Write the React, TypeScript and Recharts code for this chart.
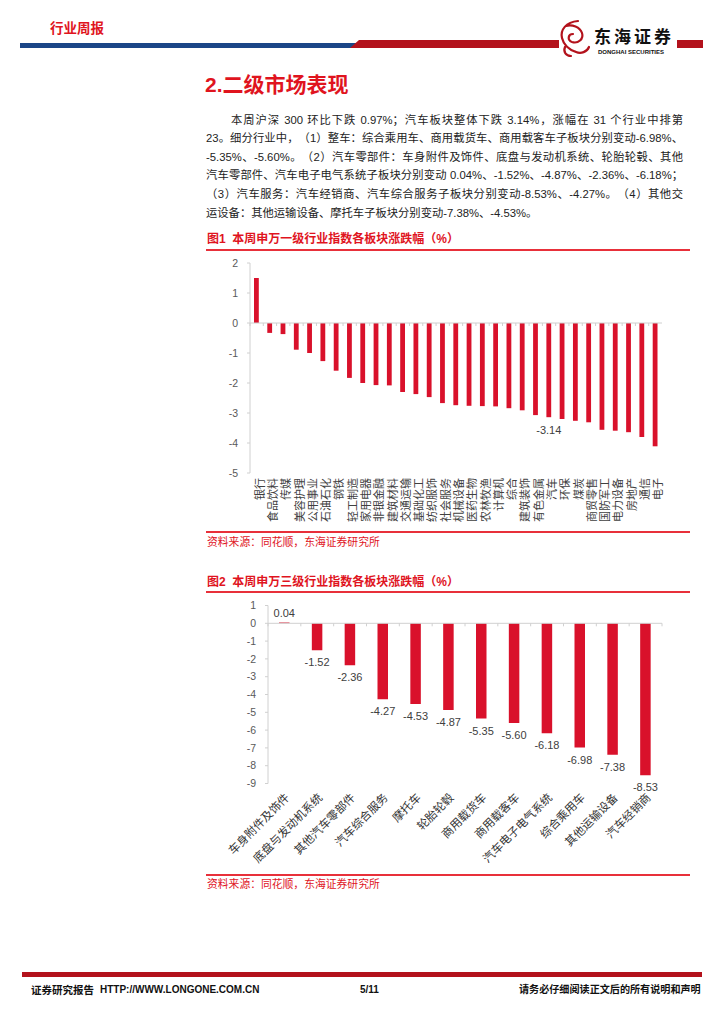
import React from "react";
import { BarChart, Bar, XAxis, YAxis, ReferenceLine, LabelList } from "recharts";

// ---------- data ----------
const industries = ["银行", "食品饮料", "传媒", "美容护理", "公用事业", "石油石化", "钢铁", "轻工制造", "家用电器", "非银金融", "建筑材料", "交通运输", "基础化工", "纺织服饰", "社会服务", "机械设备", "医药生物", "农林牧渔", "计算机", "综合", "建筑装饰", "有色金属", "汽车", "环保", "煤炭", "商贸零售", "国防军工", "电力设备", "房地产", "通信", "电子"];
const industryChange = [1.5, -0.33, -0.37, -0.89, -1.0, -1.27, -1.59, -1.83, -2.0, -2.07, -2.08, -2.3, -2.37, -2.47, -2.67, -2.74, -2.76, -2.77, -2.78, -2.84, -2.91, -3.07, -3.14, -3.2, -3.26, -3.31, -3.56, -3.59, -3.64, -3.8, -4.11];
const industryTicks = [2, 1, 0, -1, -2, -3, -4, -5];
const highlightedIndustry = "汽车";

const subSectors = ["车身附件及饰件", "底盘与发动机系统", "其他汽车零部件", "汽车综合服务", "摩托车", "轮胎轮毂", "商用载货车", "商用载客车", "汽车电子电气系统", "综合乘用车", "其他运输设备", "汽车经销商"];
const subSectorChange = [0.04, -1.52, -2.36, -4.27, -4.53, -4.87, -5.35, -5.6, -6.18, -6.98, -7.38, -8.53];
const subSectorTicks = [1, 0, -1, -2, -3, -4, -5, -6, -7, -8, -9];

const paragraphLines = [
  "本周沪深 300 环比下跌 0.97%；汽车板块整体下跌 3.14%，涨幅在 31 个行业中排第",
  "23。细分行业中，（1）整车：综合乘用车、商用载货车、商用载客车子板块分别变动-6.98%、",
  "-5.35%、-5.60%。（2）汽车零部件：车身附件及饰件、底盘与发动机系统、轮胎轮毂、其他",
  "汽车零部件、汽车电子电气系统子板块分别变动 0.04%、-1.52%、-4.87%、-2.36%、-6.18%；",
  "（3）汽车服务：汽车经销商、汽车综合服务子板块分别变动-8.53%、-4.27%。（4）其他交",
  "运设备：其他运输设备、摩托车子板块分别变动-7.38%、-4.53%。",
];

// ---------- styles ----------
const FONT = '"Liberation Sans", Arial, "Noto Sans CJK SC", sans-serif';
const BAR_RED = "#D9112B";
const TEXT_RED = "#E0141E";
const DARK_RED = "#B3121C";
const NAVY = "#1B4687";
const AXIS_GREY = "#d0d0d0";

const data1 = industries.map((name, i) => ({ name, value: industryChange[i] }));
const data2 = subSectors.map((name, i) => ({ name, value: subSectorChange[i] }));

const VerticalTick = (props: any) => {
  const { x, y, payload } = props;
  const tx = x + 3;
  const ty = y + 5;
  return (
    <text x={tx} y={ty} transform={`rotate(-90 ${tx} ${ty})`} textAnchor="end" dominantBaseline="central" fontSize={11} fill="#404040" fontFamily={FONT}>
      {payload.value}
    </text>
  );
};

const SlantTick = (props: any) => {
  const { x, y, payload } = props;
  const tx = x + 3;
  const ty = y + 12;
  return (
    <text x={tx} y={ty} transform={`rotate(-45 ${tx} ${ty})`} textAnchor="end" dominantBaseline="central" fontSize={11.5} fill="#333" fontFamily={FONT}>
      {payload.value}
    </text>
  );
};

const Label1 = (props: any) => {
  const { x, y, width, height, value, index } = props;
  if (industries[index] !== highlightedIndustry) return null;
  const bottom = Math.max(y, y + height);
  return (
    <text x={x + width / 2} y={bottom + 13} textAnchor="middle" dominantBaseline="central" fontSize={11} fill="#404040" fontFamily={FONT}>
      {Number(value).toFixed(2)}
    </text>
  );
};

const Label2 = (props: any) => {
  const { x, y, width, height, value } = props;
  const top = Math.min(y, y + height);
  const bottom = Math.max(y, y + height);
  const ly = value >= 0 ? top - 10 : bottom + 12;
  return (
    <text x={x + width / 2} y={ly} textAnchor="middle" dominantBaseline="central" fontSize={11} fill="#404040" fontFamily={FONT}>
      {Number(value).toFixed(2)}
    </text>
  );
};

const Chart1 = () => {
  const last = industries[industries.length - 1];
  return (
    <BarChart width={490} height={290} data={data1} margin={{ top: 8, right: 18, left: 0, bottom: 0 }} barCategoryGap={0} style={{ fontFamily: FONT }}>
      <XAxis dataKey="name" height={72} axisLine={false} tickLine={false} tickSize={0} tickMargin={0} interval={0} tick={<VerticalTick />} />
      <YAxis width={60} domain={[-5, 2]} ticks={industryTicks} interval={0} allowDataOverflow tickSize={3} tickMargin={9} axisLine={{ stroke: AXIS_GREY }} tickLine={{ stroke: AXIS_GREY }} tick={{ fontSize: 10.5, fill: "#595959" }} />
      <ReferenceLine y={0} stroke={AXIS_GREY} />
      {industries.map((c) => (
        <ReferenceLine key={c} segment={[{ x: c, y: 0 }, { x: c, y: -0.1 }]} position="start" stroke={AXIS_GREY} />
      ))}
      <ReferenceLine segment={[{ x: last, y: 0 }, { x: last, y: -0.1 }]} position="end" stroke={AXIS_GREY} />
      <Bar dataKey="value" fill={BAR_RED} barSize={4.8} isAnimationActive={false}>
        <LabelList dataKey="value" content={<Label1 />} />
      </Bar>
    </BarChart>
  );
};

const Chart2 = () => {
  const last = subSectors[subSectors.length - 1];
  return (
    <BarChart width={490} height={275} data={data2} margin={{ top: 10.5, right: 18, left: 0, bottom: 0 }} barCategoryGap={0} style={{ fontFamily: FONT }}>
      <XAxis dataKey="name" height={86.5} axisLine={false} tickLine={false} tickSize={0} tickMargin={0} interval={0} tick={<SlantTick />} />
      <YAxis width={78} domain={[-9, 1]} ticks={subSectorTicks} interval={0} allowDataOverflow tickSize={3} tickMargin={9} axisLine={{ stroke: AXIS_GREY }} tickLine={{ stroke: AXIS_GREY }} tick={{ fontSize: 10.5, fill: "#595959" }} />
      <ReferenceLine y={0} stroke={AXIS_GREY} />
      {subSectors.map((c) => (
        <ReferenceLine key={c} segment={[{ x: c, y: 0 }, { x: c, y: -0.17 }]} position="start" stroke={AXIS_GREY} />
      ))}
      <ReferenceLine segment={[{ x: last, y: 0 }, { x: last, y: -0.17 }]} position="end" stroke={AXIS_GREY} />
      <Bar dataKey="value" fill={BAR_RED} barSize={10.5} isAnimationActive={false}>
        <LabelList dataKey="value" content={<Label2 />} />
      </Bar>
    </BarChart>
  );
};

const abs = (left: number, top: number, extra: React.CSSProperties = {}): React.CSSProperties => ({ position: "absolute", left, top, ...extra });

export default function App() {
  return (
    <div style={{ position: "absolute", left: 0, top: 0, width: 724, height: 1024, background: "#fff", fontFamily: FONT, overflow: "hidden", textSpacingTrim: "space-all" } as React.CSSProperties}>
      {/* header */}
      <svg width={724} height={62} style={abs(0, 0)}>
        <rect x={20} y={43} width={338} height={5} fill={NAVY} />
        <polygon points="350,48 359,40 559,40 559,48" fill={DARK_RED} />
        <rect x={677} y={40} width={26} height={8} fill={DARK_RED} />
        <path d="M578 21 C566 22 560 30 562 38 C564 46 570 50 576 52 M566 26 C572 24 580 27 582 33 C584 39 578 44 572 42 C567 40 568 34 573 34 M576 52 C581 54 587 52 589 47 M565 47 C563 52 566 56 571 56" stroke={DARK_RED} strokeWidth={2.2} fill="none" strokeLinecap="round" />
      </svg>
      <div style={abs(50, 20, { color: TEXT_RED, fontSize: 13.5, fontWeight: 700, lineHeight: "18px" })}>行业周报</div>
      <div style={abs(594, 28, { color: "#111", fontSize: 17, fontWeight: 700, letterSpacing: 3, lineHeight: "20px" })}>东海证券</div>
      <div style={abs(598, 48, { color: "#111", fontSize: 6, fontWeight: 700, lineHeight: "8px", whiteSpace: "nowrap" })}>DONGHAI SECURITIES</div>

      {/* title */}
      <div style={abs(205, 72, { color: TEXT_RED, fontSize: 21, fontWeight: 700, lineHeight: "26px", whiteSpace: "nowrap" })}>2.二级市场表现</div>

      {/* paragraph */}
      <div style={abs(206, 110.7, { width: 477, color: "#222", fontSize: 11.3, lineHeight: "18.6px" })}>
        {paragraphLines.map((line, i) => (
          <div
            key={i}
            style={{
              textAlign: i < paragraphLines.length - 1 ? "justify" : "left",
              textAlignLast: i < paragraphLines.length - 1 ? "justify" : "left",
              textIndent: i === 0 ? 25 : 0,
              height: 18.6,
            } as React.CSSProperties}
          >
            {line}
          </div>
        ))}
      </div>

      {/* figure 1 */}
      <div style={abs(207, 231, { color: TEXT_RED, fontSize: 12, fontWeight: 700, lineHeight: "16px", whiteSpace: "nowrap" })}>图1&nbsp;&nbsp;本周申万一级行业指数各板块涨跌幅（%）</div>
      <div style={abs(206, 249, { width: 484, height: 2, background: "#E8303A" })} />
      <div style={abs(190, 255)}>
        <Chart1 />
      </div>
      <div style={abs(206, 531, { width: 484, height: 1.5, background: "#E8303A" })} />
      <div style={abs(207, 535, { color: TEXT_RED, fontSize: 10.8, lineHeight: "14px", whiteSpace: "nowrap" })}>资料来源：同花顺，东海证券研究所</div>

      {/* figure 2 */}
      <div style={abs(207, 574, { color: TEXT_RED, fontSize: 12, fontWeight: 700, lineHeight: "16px", whiteSpace: "nowrap" })}>图2&nbsp;&nbsp;本周申万三级行业指数各板块涨跌幅（%）</div>
      <div style={abs(206, 591, { width: 484, height: 2, background: "#E8303A" })} />
      <div style={abs(190, 595)}>
        <Chart2 />
      </div>
      <div style={abs(206, 874, { width: 484, height: 1.5, background: "#E8303A" })} />
      <div style={abs(207, 877, { color: TEXT_RED, fontSize: 10.8, lineHeight: "14px", whiteSpace: "nowrap" })}>资料来源：同花顺，东海证券研究所</div>

      {/* footer */}
      <div style={abs(22, 972, { width: 680, height: 5, background: DARK_RED })} />
      <div style={abs(31, 983, { color: "#111", fontSize: 10.5, fontWeight: 700, lineHeight: "14px", whiteSpace: "nowrap" })}>证券研究报告</div>
      <div style={abs(100, 983, { color: "#111", fontSize: 10, fontWeight: 700, lineHeight: "14px", whiteSpace: "nowrap" })}>HTTP://WWW.LONGONE.COM.CN</div>
      <div style={abs(360, 983, { color: "#111", fontSize: 10, fontWeight: 700, lineHeight: "14px", whiteSpace: "nowrap" })}>5/11</div>
      <div style={abs(519, 983, { color: "#111", fontSize: 10.1, fontWeight: 700, lineHeight: "14px", whiteSpace: "nowrap" })}>请务必仔细阅读正文后的所有说明和声明</div>
    </div>
  );
}
